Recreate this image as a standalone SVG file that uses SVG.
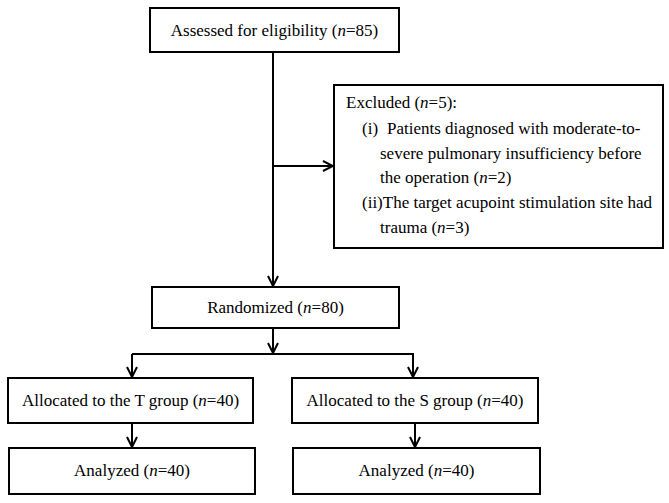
<svg xmlns="http://www.w3.org/2000/svg" width="669" height="503" viewBox="0 0 669 503">
<style>
.box{fill:#fff;stroke:#000;stroke-width:2}
.ln{fill:none;stroke:#000;stroke-width:2}
text{font-family:"Liberation Serif","Times New Roman",serif;font-size:17px;fill:#000}
.c{text-anchor:middle}
.i{font-style:italic}
</style>
<defs>
<marker id="ah" viewBox="0 0 12 12" refX="11" refY="6" markerWidth="12" markerHeight="12" markerUnits="userSpaceOnUse" orient="auto">
<polyline points="1,1 11,6 1,11" fill="none" stroke="#000" stroke-width="2"/>
</marker>
</defs>
<rect width="669" height="503" fill="#fff"/>
<g id="connectors">
<line class="ln" x1="273" y1="52" x2="273" y2="286" marker-end="url(#ah)"/>
<line class="ln" x1="273" y1="166" x2="333" y2="166" marker-end="url(#ah)"/>
<line class="ln" x1="273" y1="328" x2="273" y2="353" marker-end="url(#ah)"/>
<polyline class="ln" points="132,354 413,354 413,377" marker-end="url(#ah)"/>
<line class="ln" x1="132" y1="354" x2="132" y2="377" marker-end="url(#ah)"/>
<line class="ln" x1="132" y1="423" x2="132" y2="447" marker-end="url(#ah)"/>
<line class="ln" x1="415" y1="423" x2="415" y2="447" marker-end="url(#ah)"/>
</g>
<g id="assessed">
<rect class="box" x="150" y="8" width="249" height="44"/>
<text class="c" x="274.5" y="36">Assessed for eligibility (<tspan class="i">n</tspan>=85)</text>
</g>
<g id="excluded">
<rect class="box" x="334" y="85" width="329" height="163"/>
<text x="346" y="108">Excluded (<tspan class="i">n</tspan>=5):</text>
<text x="362" y="134">(i)<tspan x="387">Patients diagnosed with moderate-to-</tspan></text>
<text x="380" y="159">severe pulmonary insufficiency before</text>
<text x="380" y="183">the operation (<tspan class="i">n</tspan>=2)</text>
<text x="362" y="208">(ii)The target acupoint stimulation site had</text>
<text x="380" y="233">trauma (<tspan class="i">n</tspan>=3)</text>
</g>
<g id="randomized">
<rect class="box" x="152" y="287" width="247" height="41"/>
<text class="c" x="275.5" y="313">Randomized (<tspan class="i">n</tspan>=80)</text>
</g>
<g id="allocT">
<rect class="box" x="8" y="378" width="245" height="45"/>
<text class="c" x="130.5" y="406">Allocated to the T group (<tspan class="i">n</tspan>=40)</text>
</g>
<g id="allocS">
<rect class="box" x="292" y="378" width="246" height="45"/>
<text class="c" x="415" y="406">Allocated to the S group (<tspan class="i">n</tspan>=40)</text>
</g>
<g id="analyzedT">
<rect class="box" x="9" y="448" width="246" height="46"/>
<text class="c" x="132" y="476">Analyzed (<tspan class="i">n</tspan>=40)</text>
</g>
<g id="analyzedS">
<rect class="box" x="293" y="448" width="247" height="46"/>
<text class="c" x="416.5" y="476">Analyzed (<tspan class="i">n</tspan>=40)</text>
</g>
</svg>
